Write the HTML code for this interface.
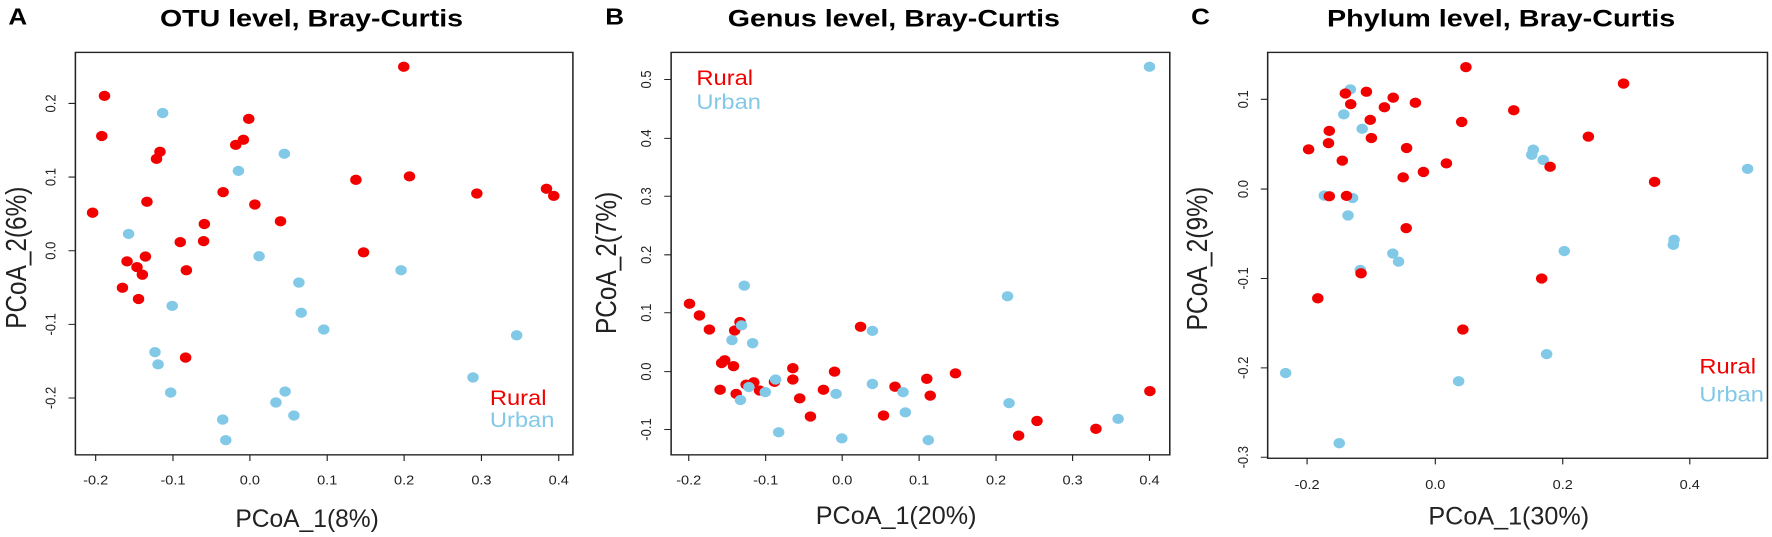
<!DOCTYPE html>
<html><head><meta charset="utf-8"><style>
html,body{margin:0;padding:0;background:#fff;overflow:hidden}
svg{display:block}
text{font-family:"Liberation Sans",sans-serif}
.t{font-weight:bold;fill:#000}
.tk{font-size:38px;fill:#222}
.lab{font-size:74px;fill:#222}
.r{fill:#f20000}
.u{fill:#82c9e8}
</style></head><body>
<svg width="1772" height="537" viewBox="0 0 1772 537" xmlns="http://www.w3.org/2000/svg">
<!-- Panel A -->
<g transform="scale(0.3827,0.3425)">
<text class="t" x="22" y="72" font-size="68">A</text>
<text class="t" x="418" y="78" font-size="70" textLength="792" lengthAdjust="spacingAndGlyphs">OTU level, Bray-Curtis</text>
<rect x="197" y="153" width="1300" height="1175" fill="none" stroke="#222" stroke-width="4"/>
<g stroke="#222" stroke-width="3">
<path d="M250 1328v18M452 1328v18M653 1328v18M855 1328v18M1056 1328v18M1258 1328v18M1460 1328v18"/>
<path d="M197 302h-18M197 517h-18M197 732h-18M197 947h-18M197 1162h-18"/>
</g>
<g class="tk" text-anchor="middle">
<text x="250" y="1415">-0.2</text><text x="452" y="1415">-0.1</text><text x="653" y="1415">0.0</text><text x="855" y="1415">0.1</text><text x="1056" y="1415">0.2</text><text x="1258" y="1415">0.3</text><text x="1460" y="1415">0.4</text>
<text transform="translate(145,302) rotate(-90)">0.2</text>
<text transform="translate(145,517) rotate(-90)">0.1</text>
<text transform="translate(145,732) rotate(-90)">0.0</text>
<text transform="translate(145,947) rotate(-90)">-0.1</text>
<text transform="translate(145,1162) rotate(-90)">-0.2</text>
</g>
<text class="lab" transform="translate(68,960) rotate(-90)" textLength="415" lengthAdjust="spacingAndGlyphs">PCoA_2(6%)</text>
<text class="lab" x="615" y="1538" textLength="375" lengthAdjust="spacingAndGlyphs">PCoA_1(8%)</text>
<text x="1280" y="1182" font-size="62" fill="#f20000">Rural</text>
<text x="1280" y="1247" font-size="62" fill="#82c9e8">Urban</text>
<g class="u">
<circle cx="425" cy="330" r="15"/><circle cx="743" cy="449" r="15"/><circle cx="623" cy="499" r="15"/><circle cx="336" cy="683" r="15"/><circle cx="677" cy="748" r="15"/><circle cx="1048" cy="789" r="15"/><circle cx="781" cy="825" r="15"/><circle cx="787" cy="913" r="15"/><circle cx="450" cy="893" r="15"/><circle cx="846" cy="962" r="15"/><circle cx="1350" cy="979" r="15"/><circle cx="405" cy="1028" r="15"/><circle cx="413" cy="1064" r="15"/><circle cx="446" cy="1146" r="15"/><circle cx="745" cy="1143" r="15"/><circle cx="721" cy="1175" r="15"/><circle cx="768" cy="1213" r="15"/><circle cx="582" cy="1225" r="15"/><circle cx="590" cy="1285" r="15"/><circle cx="1236" cy="1102" r="15"/>
</g>
<g class="r">
<circle cx="1055" cy="195" r="15"/><circle cx="273" cy="280" r="15"/><circle cx="266" cy="397" r="15"/><circle cx="650" cy="347" r="15"/><circle cx="636" cy="408" r="15"/><circle cx="616" cy="423" r="15"/><circle cx="418" cy="443" r="15"/><circle cx="409" cy="464" r="15"/><circle cx="930" cy="525" r="15"/><circle cx="1070" cy="515" r="15"/><circle cx="583" cy="561" r="15"/><circle cx="384" cy="589" r="15"/><circle cx="1246" cy="565" r="15"/><circle cx="1428" cy="551" r="15"/><circle cx="1447" cy="572" r="15"/><circle cx="242" cy="621" r="15"/><circle cx="666" cy="597" r="15"/><circle cx="733" cy="646" r="15"/><circle cx="534" cy="654" r="15"/><circle cx="532" cy="704" r="15"/><circle cx="471" cy="707" r="15"/><circle cx="380" cy="749" r="15"/><circle cx="332" cy="763" r="15"/><circle cx="358" cy="780" r="15"/><circle cx="372" cy="802" r="15"/><circle cx="487" cy="789" r="15"/><circle cx="320" cy="840" r="15"/><circle cx="362" cy="873" r="15"/><circle cx="950" cy="737" r="15"/><circle cx="485" cy="1044" r="15"/>
</g>
</g>
<!-- Panel B -->
<g transform="translate(590,0) scale(0.3827,0.3425)">
<text class="t" x="40" y="72" font-size="68">B</text>
<text class="t" x="360" y="78" font-size="70" textLength="868" lengthAdjust="spacingAndGlyphs">Genus level, Bray-Curtis</text>
<rect x="212" y="153" width="1303" height="1175" fill="none" stroke="#222" stroke-width="4"/>
<g stroke="#222" stroke-width="3">
<path d="M258 1328v18M459 1328v18M659 1328v18M860 1328v18M1061 1328v18M1261 1328v18M1462 1328v18"/>
<path d="M212 232h-18M212 404h-18M212 573h-18M212 744h-18M212 913h-18M212 1085h-18M212 1254h-18"/>
</g>
<g class="tk" text-anchor="middle">
<text x="258" y="1415">-0.2</text><text x="459" y="1415">-0.1</text><text x="659" y="1415">0.0</text><text x="860" y="1415">0.1</text><text x="1061" y="1415">0.2</text><text x="1261" y="1415">0.3</text><text x="1462" y="1415">0.4</text>
<text transform="translate(160,232) rotate(-90)">0.5</text>
<text transform="translate(160,404) rotate(-90)">0.4</text>
<text transform="translate(160,573) rotate(-90)">0.3</text>
<text transform="translate(160,744) rotate(-90)">0.2</text>
<text transform="translate(160,913) rotate(-90)">0.1</text>
<text transform="translate(160,1085) rotate(-90)">0.0</text>
<text transform="translate(160,1254) rotate(-90)">-0.1</text>
</g>
<text class="lab" transform="translate(68,975) rotate(-90)" textLength="415" lengthAdjust="spacingAndGlyphs">PCoA_2(7%)</text>
<text class="lab" x="590" y="1530" textLength="420" lengthAdjust="spacingAndGlyphs">PCoA_1(20%)</text>
<text x="278" y="248" font-size="62" fill="#f20000">Rural</text>
<text x="278" y="318" font-size="62" fill="#82c9e8">Urban</text>
<g class="r">
<circle cx="260" cy="887" r="15"/><circle cx="286" cy="921" r="15"/><circle cx="312" cy="962" r="15"/><circle cx="392" cy="940" r="15"/><circle cx="378" cy="965" r="15"/><circle cx="352" cy="1052" r="15"/><circle cx="344" cy="1060" r="15"/><circle cx="375" cy="1069" r="15"/><circle cx="340" cy="1138" r="15"/><circle cx="382" cy="1150" r="15"/><circle cx="408" cy="1123" r="15"/><circle cx="428" cy="1116" r="15"/><circle cx="443" cy="1140" r="15"/><circle cx="482" cy="1115" r="15"/><circle cx="530" cy="1075" r="15"/><circle cx="530" cy="1108" r="15"/><circle cx="548" cy="1163" r="15"/><circle cx="576" cy="1216" r="15"/><circle cx="610" cy="1138" r="15"/><circle cx="639" cy="1085" r="15"/><circle cx="707" cy="954" r="15"/><circle cx="797" cy="1129" r="15"/><circle cx="767" cy="1213" r="15"/><circle cx="880" cy="1106" r="15"/><circle cx="889" cy="1155" r="15"/><circle cx="955" cy="1090" r="15"/><circle cx="1120" cy="1272" r="15"/><circle cx="1168" cy="1229" r="15"/><circle cx="1322" cy="1252" r="15"/><circle cx="1463" cy="1142" r="15"/>
</g>
<g class="u">
<circle cx="403" cy="834" r="15"/><circle cx="396" cy="950" r="15"/><circle cx="371" cy="993" r="15"/><circle cx="425" cy="1002" r="15"/><circle cx="485" cy="1108" r="15"/><circle cx="415" cy="1130" r="15"/><circle cx="393" cy="1168" r="15"/><circle cx="458" cy="1145" r="15"/><circle cx="493" cy="1262" r="15"/><circle cx="643" cy="1150" r="15"/><circle cx="658" cy="1280" r="15"/><circle cx="738" cy="966" r="15"/><circle cx="738" cy="1121" r="15"/><circle cx="818" cy="1145" r="15"/><circle cx="824" cy="1204" r="15"/><circle cx="884" cy="1285" r="15"/><circle cx="1091" cy="865" r="15"/><circle cx="1095" cy="1177" r="15"/><circle cx="1380" cy="1223" r="15"/><circle cx="1462" cy="195" r="15"/>
</g>
</g>
<!-- Panel C -->
<g transform="translate(1172,0) scale(0.3827,0.3425)">
<text class="t" x="50" y="72" font-size="68">C</text>
<text class="t" x="405" y="78" font-size="70" textLength="910" lengthAdjust="spacingAndGlyphs">Phylum level, Bray-Curtis</text>
<rect x="250" y="153" width="1306" height="1185" fill="none" stroke="#222" stroke-width="4"/>
<g stroke="#222" stroke-width="3">
<path d="M353 1338v18M688 1338v18M1021 1338v18M1353 1338v18"/>
<path d="M250 290h-18M250 552h-18M250 813h-18M250 1074h-18M250 1335h-18"/>
</g>
<g class="tk" text-anchor="middle">
<text x="353" y="1428">-0.2</text><text x="688" y="1428">0.0</text><text x="1021" y="1428">0.2</text><text x="1353" y="1428">0.4</text>
<text transform="translate(198,290) rotate(-90)">0.1</text>
<text transform="translate(198,552) rotate(-90)">0.0</text>
<text transform="translate(198,813) rotate(-90)">-0.1</text>
<text transform="translate(198,1074) rotate(-90)">-0.2</text>
<text transform="translate(198,1335) rotate(-90)">-0.3</text>
</g>
<text class="lab" transform="translate(92,965) rotate(-90)" textLength="420" lengthAdjust="spacingAndGlyphs">PCoA_2(9%)</text>
<text class="lab" x="670" y="1532" textLength="420" lengthAdjust="spacingAndGlyphs">PCoA_1(30%)</text>
<text x="1378" y="1090" font-size="62" fill="#f20000">Rural</text>
<text x="1378" y="1172" font-size="62" fill="#82c9e8">Urban</text>
<g class="u">
<circle cx="466" cy="261" r="15"/><circle cx="449" cy="334" r="15"/><circle cx="497" cy="376" r="15"/><circle cx="944" cy="437" r="15"/><circle cx="940" cy="452" r="15"/><circle cx="970" cy="467" r="15"/><circle cx="1504" cy="493" r="15"/><circle cx="398" cy="571" r="15"/><circle cx="472" cy="578" r="15"/><circle cx="460" cy="629" r="15"/><circle cx="577" cy="740" r="15"/><circle cx="592" cy="764" r="15"/><circle cx="492" cy="788" r="15"/><circle cx="1025" cy="733" r="15"/><circle cx="1312" cy="700" r="15"/><circle cx="1310" cy="715" r="15"/><circle cx="979" cy="1034" r="15"/><circle cx="749" cy="1113" r="15"/><circle cx="297" cy="1089" r="15"/><circle cx="437" cy="1294" r="15"/>
</g>
<g class="r">
<circle cx="768" cy="196" r="15"/><circle cx="1180" cy="244" r="15"/><circle cx="453" cy="273" r="15"/><circle cx="508" cy="268" r="15"/><circle cx="467" cy="304" r="15"/><circle cx="578" cy="285" r="15"/><circle cx="636" cy="300" r="15"/><circle cx="555" cy="313" r="15"/><circle cx="893" cy="322" r="15"/><circle cx="518" cy="350" r="15"/><circle cx="757" cy="356" r="15"/><circle cx="411" cy="382" r="15"/><circle cx="409" cy="418" r="15"/><circle cx="521" cy="403" r="15"/><circle cx="357" cy="436" r="15"/><circle cx="613" cy="432" r="15"/><circle cx="1088" cy="399" r="15"/><circle cx="445" cy="469" r="15"/><circle cx="717" cy="477" r="15"/><circle cx="657" cy="502" r="15"/><circle cx="604" cy="518" r="15"/><circle cx="988" cy="487" r="15"/><circle cx="1261" cy="531" r="15"/><circle cx="411" cy="573" r="15"/><circle cx="456" cy="572" r="15"/><circle cx="612" cy="666" r="15"/><circle cx="494" cy="798" r="15"/><circle cx="966" cy="813" r="15"/><circle cx="381" cy="871" r="15"/><circle cx="760" cy="962" r="15"/>
</g>
</g>
</svg>
</body></html>
